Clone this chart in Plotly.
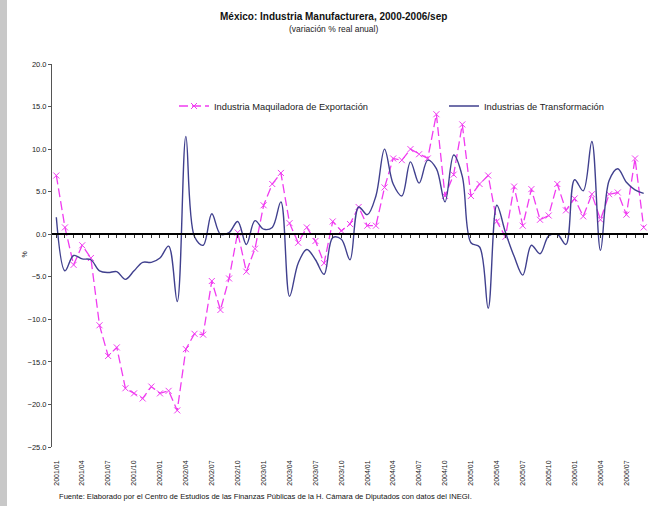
import plotly.graph_objects as go

# Categories: monthly 2001/01 .. 2006/09
months = [f"{y}/{m:02d}" for y in range(2001, 2007) for m in range(1, 13)][:69]
tick_labels = months[::3]

maquiladora = [6.9, 0.8, -3.6, -1.3, -2.8, -10.7, -14.3, -13.3, -18.1, -18.7,
               -19.3, -17.9, -18.7, -18.4, -20.7, -13.5, -11.7, -11.8, -5.5, -8.9,
               -5.2, 0.2, -4.4, -1.7, 3.4, 5.9, 7.2, 1.3, -1.0, 0.8,
               -0.8, -3.4, 1.5, 0.4, 1.2, 3.2, 1.0, 1.0, 5.5, 8.9,
               8.7, 10.0, 9.4, 8.9, 14.1, 4.5, 7.0, 12.9, 4.5, 5.9,
               6.9, 1.5, -0.3, 5.6, 1.0, 5.3, 1.7, 2.2, 5.9, 2.8,
               4.2, 2.1, 4.7, 1.7, 4.7, 4.9, 2.3, 8.9, 0.8]

transformacion = [2.0, -4.3, -2.5, -2.9, -3.0, -4.3, -4.5, -4.4, -5.3, -4.3,
                  -3.3, -3.3, -2.8, -1.4, -7.9, 11.5, -0.3, -1.3, 2.4, 0.0,
                  0.2, 1.5, -1.2, 1.6, 0.6, 0.8, 3.8, -7.3, -3.4, -1.8,
                  -3.0, -4.7, -0.4, -0.6, -3.0, 3.2, 2.3, 4.5, 10.0, 5.9,
                  4.5, 8.5, 6.0, 8.7, 7.7, 3.8, 9.3, 6.8, -1.0, -1.5,
                  -8.7, 3.4, 0.2, -2.6, -4.8, -1.3, -2.3, -0.2, 0.0, -1.2,
                  6.4, 5.1, 10.9, -1.9, 6.3, 7.7, 6.1, 5.2, 4.8]

W, H = 648, 506
L, R, T, B = 52, 0, 64, 59
PW, PH = W - L - R, H - T - B

def px(x):
    return (x - L) / PW

def py(y):
    return (H - B - y) / PH

FONT = "Arial, Liberation Sans, sans-serif"
PINK = "#F03CF0"
BLUE = "#40408E"

fig = go.Figure()
fig.add_trace(go.Scatter(
    x=months, y=maquiladora, name="Industria Maquiladora de Exportación",
    mode="lines+markers", legend="legend",
    line=dict(color=PINK, width=1.3, dash="9px,4px"),
    marker=dict(symbol="x-thin", size=6, line=dict(color=PINK, width=1), color=PINK),
))
fig.add_trace(go.Scatter(
    x=months, y=transformacion, name="Industrias de Transformación",
    mode="lines", legend="legend2",
    line=dict(color=BLUE, width=1.4, shape="spline", smoothing=1.0),
))
# dummy trace for the zero-crossing axis with month ticks
fig.add_trace(go.Scatter(x=months, y=[None] * len(months), xaxis="x2",
                         showlegend=False, hoverinfo="skip", mode="lines"))

legend_common = dict(orientation="h", xanchor="left", yanchor="middle",
                     font=dict(size=9.3, family=FONT, color="#222"),
                     bgcolor="rgba(0,0,0,0)", borderwidth=0)

fig.update_layout(
    width=W, height=H,
    margin=dict(l=L, r=R, t=T, b=B),
    paper_bgcolor="white", plot_bgcolor="white",
    font=dict(family=FONT, size=8, color="#222"),
    showlegend=True,
    legend=dict(x=px(174), y=py(106), **legend_common),
    legend2=dict(x=px(444), y=py(106), **legend_common),
    xaxis=dict(type="category", categoryorder="array", categoryarray=months,
               range=[-0.5, 68.5], showgrid=False, zeroline=False, showline=False,
               ticks="", tickvals=tick_labels, ticktext=tick_labels, tickangle=-90,
               tickfont=dict(size=7, family=FONT, color="#222"), ticklabelstandoff=11),
    xaxis2=dict(type="category", categoryorder="array", categoryarray=months,
                overlaying="x", anchor="free", position=(0 + 25) / 45, matches="x",
                range=[-0.5, 68.5], showgrid=False, zeroline=False,
                showline=True, linecolor="black", linewidth=1.5,
                ticks="outside", ticklen=3, tickcolor="#333", tickwidth=1,
                tickvals=months, showticklabels=False, side="bottom"),
    yaxis=dict(range=[-25, 20], dtick=5, tick0=0, tickformat=".1f",
               showgrid=False, zeroline=False, showline=True, linecolor="#555",
               linewidth=1, ticks="outside", ticklen=3, tickcolor="#555",
               tickfont=dict(size=7.5, family=FONT, color="#222")),
    annotations=[
        dict(text="<b>México: Industria Manufacturera, 2000-2006/sep</b>", x=px(333), y=py(17),
             xref="paper", yref="paper", showarrow=False, xanchor="center", yanchor="middle",
             font=dict(size=10, family=FONT, color="#111")),
        dict(text="(variación % real anual)", x=px(333), y=py(29),
             xref="paper", yref="paper", showarrow=False, xanchor="center", yanchor="middle",
             font=dict(size=8.5, family=FONT, color="#222")),
        dict(text="%", x=px(18), y=py(255), xref="paper", yref="paper", showarrow=False,
             textangle=-90, font=dict(size=7, family=FONT, color="#222")),
        dict(text="Fuente: Elaborado por el Centro de Estudios de las Finanzas Públicas de la H. Cámara de Diputados con datos del INEGI.",
             x=px(57), y=py(496), xref="paper", yref="paper", showarrow=False,
             xanchor="left", yanchor="middle", font=dict(size=7.6, family=FONT, color="#111")),
    ],
    shapes=[dict(type="rect", xref="paper", yref="paper", x0=px(0), x1=px(7),
                 y0=py(H), y1=py(0), fillcolor="#c8c8c8", line=dict(width=0), layer="below")],
)

# remove the browser's default 8px body margin so the figure sits at the page origin
fig.write_html("out.html", config={"displayModeBar": False},
               post_script="document.body.style.margin='0';")
